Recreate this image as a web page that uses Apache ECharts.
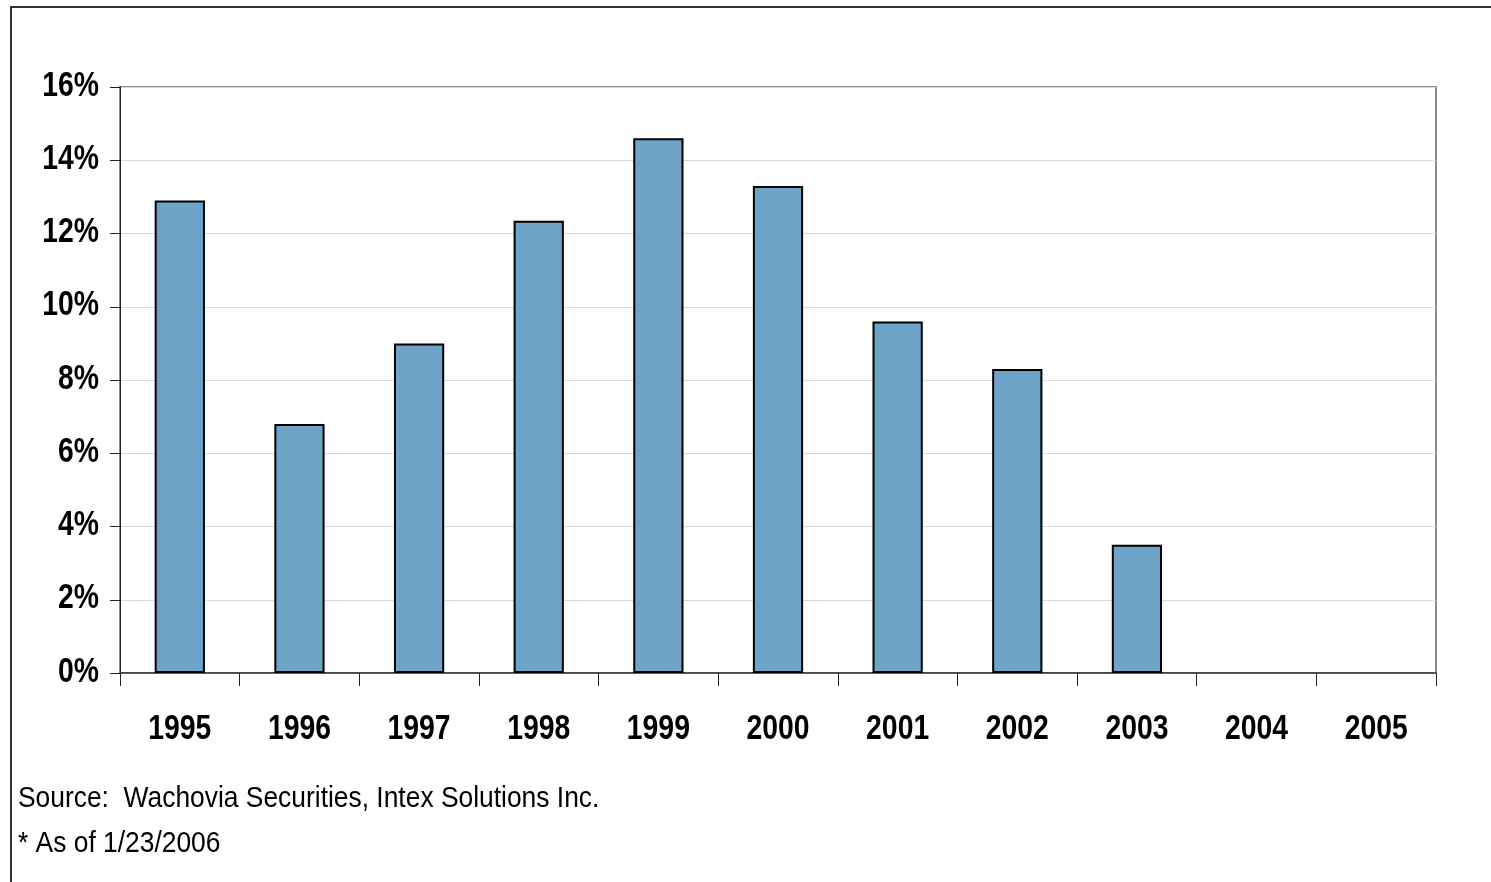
<!DOCTYPE html>
<html>
<head>
<meta charset="utf-8">
<script src="https://cdn.jsdelivr.net/npm/echarts@6/dist/echarts.min.js"></script>
<style>
html,body{margin:0;padding:0;background:#fff;}
#chart{width:1491px;height:882px;}
</style>
</head>
<body>
<div id="chart"></div>
<script>
const years = ['1995','1996','1997','1998','1999','2000','2001','2002','2003','2004','2005'];
const values = [12.9, 6.8, 9.0, 12.35, 14.6, 13.3, 9.6, 8.3, 3.5, null, null];
const yTicks = [0, 2, 4, 6, 8, 10, 12, 14, 16];
const sourceNote = 'Source:  Wachovia Securities, Intex Solutions Inc.';
const asOfNote = '* As of 1/23/2006';

const FONT = '"Liberation Sans Narrow", "Arial Narrow", "Liberation Sans", Arial, sans-serif';
const NARROW = 0.81;
const chart = echarts.init(document.getElementById('chart'));
const baseGraphic = [
  {type: 'polyline', shape: {points: [[11, 900], [11, 7], [1500, 7]]}, style: {stroke: '#333', lineWidth: 2, fill: null}},
  {type: 'text', x: 18, y: 799, scaleX: 0.91, style: {text: sourceNote, font: '29px ' + FONT, fill: '#000', verticalAlign: 'middle', align: 'left'}},
  {type: 'text', x: 18, y: 844, scaleX: 0.91, style: {text: asOfNote, font: '29px ' + FONT, fill: '#000', verticalAlign: 'middle', align: 'left'}}
];
chart.setOption({
  animation: false,
  backgroundColor: '#fff',
  grid: {left: 120, right: 55, top: 87, bottom: 209, show: true, borderColor: '#8c8c8c', borderWidth: 2, containLabel: false},
  xAxis: {
    type: 'category',
    data: years,
    axisLine: {lineStyle: {color: '#333', width: 1.5}},
    axisTick: {show: true, length: 13, lineStyle: {color: '#222', width: 1}, alignWithLabel: false},
    axisLabel: {show: false}
  },
  yAxis: {
    type: 'value',
    min: yTicks[0], max: yTicks[yTicks.length - 1], interval: 2,
    axisLine: {show: true, lineStyle: {color: '#222', width: 1}},
    axisTick: {show: true, length: 10, lineStyle: {color: '#222'}},
    splitLine: {lineStyle: {color: '#d9d9d9', width: 1}},
    axisLabel: {show: false}
  },
  series: [{
    type: 'bar',
    data: values,
    barWidth: '42%',
    itemStyle: {color: '#6ca3c7', borderColor: '#000', borderWidth: 2}
  }],
  graphic: baseGraphic
});

// Narrow bold tick labels placed through the axes' own scales
const labelGraphic = [];
const bottomPx = chart.convertToPixel({yAxisIndex: 0}, yTicks[0]);
years.forEach(function (yr) {
  const px = chart.convertToPixel({xAxisIndex: 0}, yr);
  labelGraphic.push({type: 'text', x: px, y: bottomPx + 56, scaleX: NARROW,
    style: {text: yr, font: 'bold 35px ' + FONT, fill: '#000', align: 'center', verticalAlign: 'middle'}});
});
const leftPx = chart.convertToPixel({xAxisIndex: 0}, years[0]) - (chart.convertToPixel({xAxisIndex: 0}, years[1]) - chart.convertToPixel({xAxisIndex: 0}, years[0])) / 2;
yTicks.forEach(function (v) {
  const py = chart.convertToPixel({yAxisIndex: 0}, v);
  labelGraphic.push({type: 'text', x: leftPx - 21, y: py - 1, scaleX: NARROW,
    style: {text: v + '%', font: 'bold 35px ' + FONT, fill: '#000', align: 'right', verticalAlign: 'middle'}});
});
chart.setOption({graphic: baseGraphic.concat(labelGraphic)});
</script>
</body>
</html>
